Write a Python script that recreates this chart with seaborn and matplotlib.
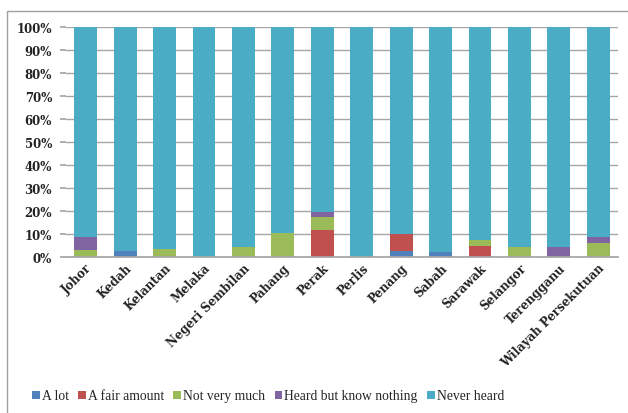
import matplotlib
matplotlib.use("Agg")
import matplotlib.pyplot as plt
import seaborn as sns
import pandas as pd
import numpy as np
from matplotlib.patches import Rectangle, Patch
from matplotlib.font_manager import FontProperties

states = ["Johor", "Kedah", "Kelantan", "Melaka", "Negeri Sembilan", "Pahang", "Perak",
          "Perlis", "Penang", "Sabah", "Sarawak", "Selangor", "Terengganu",
          "Wilayah Persekutuan"]
a_lot = [0, 2.6, 0, 0, 0, 0, 0, 0, 2.4, 2.3, 0, 0, 0, 0]
fair_amount = [0, 0, 0, 0, 0, 0, 11.6, 0, 7.6, 0, 4.7, 0, 0, 0]
not_very_much = [2.9, 0, 3.4, 0, 4.2, 10.6, 5.8, 0, 0, 0, 2.6, 4.2, 0, 6.3]
heard_nothing = [5.9, 0, 0, 0, 0, 0, 2.1, 0, 0, 0, 0, 0, 4.2, 2.6]
series_names = ["A lot", "A fair amount", "Not very much", "Heard but know nothing", "Never heard"]
colors = ["#4F81BD", "#C0504D", "#9BBB59", "#8064A2", "#4BACC6"]

sns.set_theme(style="white")
plt.rcParams["font.family"] = ["DejaVu Serif"]

known = np.array([a_lot, fair_amount, not_very_much, heard_nothing])
never_heard = 100 - known.sum(axis=0)
layers = [np.array(a_lot), np.array(fair_amount), np.array(not_very_much),
          np.array(heard_nothing), never_heard]
cums = np.cumsum(np.vstack(layers), axis=0)

fig = plt.figure(figsize=(6.28, 4.14), dpi=100)
ax = fig.add_axes([66 / 628, 1 - 258 / 414, 552 / 628, 230 / 414])

for i in range(4, -1, -1):
    df = pd.DataFrame({"state": states, "val": cums[i]})
    sns.barplot(data=df, x="state", y="val", color=colors[i], width=0.58,
                saturation=1, ax=ax, linewidth=0, order=states)

tick_font = FontProperties(family="DejaVu Serif", weight="bold", size=8.5)
ax.set_ylim(0, 100)
ax.set_xlim(-0.5, len(states) - 0.5)
ax.set_yticks(np.arange(0, 101, 10))
ax.set_yticklabels([f"{v}%" for v in range(0, 101, 10)], fontproperties=tick_font,
                   color="#222222")
ax.set_xticks(range(len(states)))
ax.set_xticklabels(states, rotation=45, ha="right", rotation_mode="anchor",
                   fontproperties=tick_font, color="#222222")
ax.set_xlabel("")
ax.set_ylabel("")
ax.yaxis.grid(True, color="#A6A6A6", linewidth=1)
ax.set_axisbelow(True)
for s in ["top", "right", "left"]:
    ax.spines[s].set_visible(False)
ax.spines["bottom"].set_color("#A6A6A6")
ax.tick_params(axis="y", length=4, color="#A6A6A6", pad=6, left=True)
ax.tick_params(axis="x", length=0, pad=3)

handles = [Patch(facecolor=c, edgecolor="none") for c in colors]
legend_font = FontProperties(family="Liberation Serif", size=9.8)
fig.legend(handles, series_names, loc="center", bbox_to_anchor=(268 / 628, 1 - 397 / 414),
           ncol=5, frameon=False, prop=legend_font,
           handlelength=0.55, handleheight=0.55, handletextpad=0.15, columnspacing=0.7)

fig.patches.append(Rectangle((6.5 / 628, -0.1), 1.2, 1 - 11.5 / 414 + 0.1,
                             transform=fig.transFigure, fill=False,
                             edgecolor="#A0A0A0", linewidth=1))

fig.savefig("out.png", dpi=100)
